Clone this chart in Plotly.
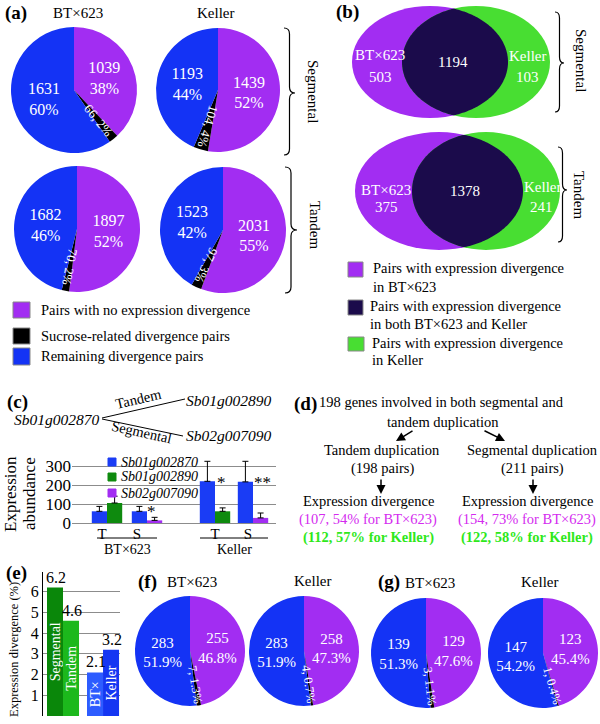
import math
import plotly.graph_objects as go

W, H = 600, 724
FONT = "'Liberation Serif', 'Times New Roman', Times, 'DejaVu Serif', serif"

PURPLE = "#A22DF2"
BLUE = "#1433F5"
BLACK = "#000000"
NAVY = "#1B0B4B"
VGREEN = "#48DE32"
MAGENTA = "#D42BEF"
TGREEN = "#2EE81A"

# ---------------- data ----------------
# (a) pies: order BT Segmental, Keller Segmental, BT Tandem, Keller Tandem
a_no_div = [1039, 1439, 1897, 2031]
a_no_div_pct = ["38%", "52%", "52%", "55%"]
a_sucrose = [66, 104, 70, 97]
a_sucrose_pct = ["2%", "4%", "2%", "3%"]
a_remain = [1631, 1193, 1682, 1523]
a_remain_pct = ["60%", "44%", "46%", "42%"]

# (b) Venn: Segmental, Tandem
b_bt_only = [503, 375]
b_both = [1194, 1378]
b_keller_only = [103, 241]

# (c) expression abundance
c_genes = ["Sb01g002870", "Sb01g002890", "Sb02g007090"]
c_groups = ["BT×623", "Keller"]
c_ticks = ["T", "S", "T", "S"]
c_blue = [62, 62, 221, 218]
c_blue_err = [26, 26, 106, 109]
c_green = [106, 62]          # T pairs (BT×623, Keller)
c_green_err = [36, 18]
c_purple = [14, 27]          # S pairs (BT×623, Keller)
c_purple_err = [16, 26]

# (d) flow text
d_tandem_pairs = 198
d_segmental_pairs = 211

# (e) expression divergence (%)
e_labels = ["Segmental", "Tandem", "BT×", "Keller"]
e_values = [6.2, 4.6, 2.1, 3.2]

# (f) pies BT×623, Keller
f_no_div = [255, 258]
f_no_div_pct = ["46.8%", "47.3%"]
f_sucrose = [7, 4]
f_sucrose_pct = ["1.3%", "0.7%"]
f_remain = [283, 283]
f_remain_pct = ["51.9%", "51.9%"]

# (g) pies BT×623, Keller
g_no_div = [129, 123]
g_no_div_pct = ["47.6%", "45.4%"]
g_sucrose = [3, 1]
g_sucrose_pct = ["1.1%", "0.4%"]
g_remain = [139, 147]
g_remain_pct = ["51.3%", "54.2%"]

# ---------------- helpers ----------------
fig = go.Figure()
ann = []
shapes = []


def PX(x):
    return x / W


def PY(y):
    return 1 - y / H


def text(t, x, y, size=14, color="black", angle=0, xanchor="center", yanchor="middle"):
    ann.append(dict(text=t, x=PX(x), y=PY(y), xref="paper", yref="paper", showarrow=False,
                    font=dict(family=FONT, size=size, color=color), textangle=angle,
                    xanchor=xanchor, yanchor=yanchor))


def rect(x0, y0, x1, y1, color, line="#888888"):
    shapes.append(dict(type="rect", xref="paper", yref="paper", x0=PX(x0), x1=PX(x1),
                       y0=PY(y1), y1=PY(y0), fillcolor=color, line=dict(color=line, width=1)))


def line(x0, y0, x1, y1, width=1.2, color="black"):
    shapes.append(dict(type="line", xref="paper", yref="paper", x0=PX(x0), y0=PY(y0),
                       x1=PX(x1), y1=PY(y1), line=dict(color=color, width=width)))


def brace(x, ytop, ymid, ybot, w):
    h = w / 2
    pts = (f"M{PX(x)},{PY(ytop)} Q{PX(x + h)},{PY(ytop)} {PX(x + h)},{PY(ytop + 6)} "
           f"L{PX(x + h)},{PY(ymid - 6)} Q{PX(x + h)},{PY(ymid)} {PX(x + w)},{PY(ymid)} "
           f"Q{PX(x + h)},{PY(ymid)} {PX(x + h)},{PY(ymid + 6)} "
           f"L{PX(x + h)},{PY(ybot - 6)} Q{PX(x + h)},{PY(ybot)} {PX(x)},{PY(ybot)}")
    shapes.append(dict(type="path", xref="paper", yref="paper", path=pts,
                       line=dict(color="black", width=1.2)))


def pie(no_div, no_pct, suc, suc_pct, rem, rem_pct, cx, cy, r, size=15, ssize=13):
    vals = [no_div, suc, rem]
    fig.add_trace(go.Pie(
        values=vals,
        text=[f"{no_div}<br>{no_pct}", "", f"{rem}<br>{rem_pct}"],
        textinfo="text", textposition=["inside", "none", "inside"],
        insidetextorientation="horizontal", sort=False, direction="clockwise", rotation=0,
        marker=dict(colors=[PURPLE, BLACK, BLUE], line=dict(width=0)),
        textfont=dict(family=FONT, size=size, color="white"),
        domain=dict(x=[PX(cx - r), PX(cx + r)], y=[PY(cy + r), PY(cy - r)]),
        showlegend=False, hoverinfo="skip"))
    tot = sum(vals)
    th = 360 * (no_div + suc / 2) / tot
    rad = math.radians(th)
    px = cx + 0.62 * r * math.sin(rad)
    py = cy - 0.62 * r * math.cos(rad)
    text(f"{suc}, {suc_pct}", px, py, size=ssize, color="white", angle=th - 90)


# ---------------- panel (a) ----------------
text("<b>(a)</b>", 16, 13, size=19)
text("BT×623", 78, 13, size=15)
text("Keller", 215, 13, size=15)
a_pos = [(74, 90, 63), (218, 90, 62), (77, 229, 63), (223, 230, 63)]
for i, (cx, cy, r) in enumerate(a_pos):
    pie(a_no_div[i], a_no_div_pct[i], a_sucrose[i], a_sucrose_pct[i],
        a_remain[i], a_remain_pct[i], cx, cy, r, size=16, ssize=13)
brace(284, 28, 93, 155, 11)
brace(285, 167, 230, 293, 12)
text("Segmental", 313, 92, size=15, angle=90)
text("Tandem", 315, 225, size=15, angle=90)
rect(13, 302, 30, 318, PURPLE)
rect(13, 328, 30, 344, BLACK)
rect(13, 348, 30, 365, BLUE)
text("Pairs with no expression divergence", 39, 310, size=14.5, xanchor="left")
text("Sucrose-related divergence pairs", 39, 336, size=14.5, xanchor="left")
text("Remaining divergence pairs", 39, 356, size=14.5, xanchor="left")

# ---------------- panel (b) ----------------
text("<b>(b)</b>", 347, 12, size=19)


def ellipse_pts(cx, cy, rx, ry, t0, t1, n=160):
    return [(cx + rx * math.cos(t0 + (t1 - t0) * i / n), cy + ry * math.sin(t0 + (t1 - t0) * i / n))
            for i in range(n + 1)]


def inside(p, e):
    cx, cy, rx, ry = e
    return ((p[0] - cx) / rx) ** 2 + ((p[1] - cy) / ry) ** 2 <= 1.0001


def venn(e1, e2):
    for (cx, cy, rx, ry), col in ((e1, PURPLE), (e2, VGREEN)):
        shapes.append(dict(type="circle", xref="paper", yref="paper",
                           x0=PX(cx - rx), x1=PX(cx + rx), y0=PY(cy + ry), y1=PY(cy - ry),
                           fillcolor=col, line=dict(width=0)))
    a = [p for p in ellipse_pts(*e1, -math.pi / 2, math.pi / 2) if inside(p, e2)]
    b = [p for p in ellipse_pts(*e2, math.pi / 2, 3 * math.pi / 2) if inside(p, e1)]
    pts = a + b
    path = "M" + " L".join(f"{PX(x)},{PY(y)}" for x, y in pts) + " Z"
    shapes.append(dict(type="path", xref="paper", yref="paper", path=path,
                       fillcolor=NAVY, line=dict(width=0)))


venn((430, 62, 78, 56), (476, 62, 74, 56))
text("BT×623", 380, 55, size=15, color="white")
text(str(b_bt_only[0]), 380, 77, size=15, color="white")
text(str(b_both[0]), 453, 62, size=15, color="white")
text("Keller", 527, 56, size=15, color="white")
text(str(b_keller_only[0]), 527, 77, size=15, color="white")

venn((439, 191, 84, 59), (486, 191, 74, 59))
text("BT×623", 386, 190, size=15, color="white")
text(str(b_bt_only[1]), 386, 207, size=15, color="white")
text(str(b_both[1]), 465, 191, size=15, color="white")
text("Keller", 542, 187, size=15, color="white")
text(str(b_keller_only[1]), 541, 207, size=15, color="white")

brace(555, 12, 63, 112, 9)
brace(558, 147, 190, 242, 9)
text("Segmental", 581, 60, size=15, angle=90)
text("Tandem", 579, 195, size=15, angle=90)

rect(348, 262, 363, 277, PURPLE)
rect(348, 300, 363, 315, NAVY)
rect(348, 337, 364, 351, VGREEN)
text("Pairs with expression divergence", 371, 268, size=14.5, xanchor="left")
text("in BT×623", 371, 287, size=14.5, xanchor="left")
text("Pairs with expression divergence", 368, 306, size=14.5, xanchor="left")
text("in both BT×623 and Keller", 368, 324, size=14.5, xanchor="left")
text("Pairs with expression divergence", 370, 343, size=14.5, xanchor="left")
text("in Keller", 370, 360, size=14.5, xanchor="left")

# ---------------- panel (c) ----------------
text("<b>(c)</b>", 17, 402, size=19)
text(f"<i>{c_genes[0]}</i>", 57, 419, size=15.5)
text(f"<i>{c_genes[1]}</i>", 229, 400, size=15.5)
text(f"<i>{c_genes[2]}</i>", 229, 435, size=15.5)
line(102, 418, 185, 399, width=1)
line(102, 419, 183, 436, width=1)
text("Tandem", 138, 399, size=14.5, angle=-13)
text("Segmental", 141, 432, size=14.5, angle=12.5)

c_x = [0, 1, 2.7, 3.65]
BW = 0.38
C_BLUE, C_GREEN = "#1A3CF5", "#0E8A0E"
fig.add_trace(go.Bar(x=c_x, y=c_blue, width=BW, offset=-BW, marker=dict(color=C_BLUE, line=dict(width=0)),
                     error_y=dict(type="data", array=c_blue_err, arrayminus=[0] * 4, symmetric=False,
                                  color="black", thickness=1, width=3),
                     xaxis="x", yaxis="y", showlegend=False, hoverinfo="skip"))
fig.add_trace(go.Bar(x=[c_x[0], c_x[2]], y=c_green, width=BW, offset=0,
                     marker=dict(color=C_GREEN, line=dict(width=0)),
                     error_y=dict(type="data", array=c_green_err, arrayminus=[0, 0], symmetric=False,
                                  color="black", thickness=1, width=3),
                     xaxis="x", yaxis="y", showlegend=False, hoverinfo="skip"))
fig.add_trace(go.Bar(x=[c_x[1], c_x[3]], y=c_purple, width=BW, offset=0,
                     marker=dict(color=PURPLE, line=dict(width=0)),
                     error_y=dict(type="data", array=c_purple_err, arrayminus=[0, 0], symmetric=False,
                                  color="black", thickness=1, width=3),
                     xaxis="x", yaxis="y", showlegend=False, hoverinfo="skip"))
# significance marks
ann.append(dict(text="*", x=c_x[1] + 0.1, y=c_purple[0] + c_purple_err[0], xref="x", yref="y",
                showarrow=False, font=dict(family=FONT, size=17), yanchor="bottom", yshift=-6))
ann.append(dict(text="*", x=c_x[2], y=c_blue[2], xref="x", yref="y", xanchor="left",
                showarrow=False, font=dict(family=FONT, size=17), yanchor="middle", yshift=-1))
ann.append(dict(text="**", x=c_x[3] - 0.02, y=c_blue[3], xref="x", yref="y", xanchor="left",
                showarrow=False, font=dict(family=FONT, size=17), yanchor="middle", yshift=-1))
# legend
for i, col in enumerate([C_BLUE, C_GREEN, PURPLE]):
    yy = [462, 477, 493][i]
    rect(108, yy - 4, 116, yy + 4, col, line=col)
    text(f"<i>{c_genes[i]}</i>", 119, yy, size=14, xanchor="left")
# axis titles
text("Expression", 10, 494, size=17, angle=-90)
text("abundance", 29, 494, size=17, angle=-90)
# group labels
line(97, 538, 157, 538, width=1)
line(200, 538, 268, 538, width=1)
text(c_groups[0], 127, 549, size=14)
text(c_groups[1], 234, 549, size=14)

# ---------------- panel (d) ----------------
text("<b>(d)</b>", 305, 404, size=19)
text("198 genes involved in both segmental and", 317, 402, size=14.5, xanchor="left")
text("tandem duplication", 443, 422, size=14.5)
text("Tandem duplication", 382, 450, size=14.5)
text(f"({d_tandem_pairs} pairs)", 382, 468, size=14.5)
text("Segmental duplication", 532, 450, size=14.5)
text(f"({d_segmental_pairs} pairs)", 532, 468, size=14.5)
for (hx, hy, ax, ay) in [(396, 441, 18, -11), (505, 441, -22, -11), (381, 494, 0, -16), (533, 494, 0, -16)]:
    ann.append(dict(text="", x=PX(hx), y=PY(hy), xref="paper", yref="paper", showarrow=True,
                    ax=ax, ay=ay, arrowhead=2, arrowsize=1.2, arrowwidth=1.5, arrowcolor="black"))
text("Expression divergence", 368, 501, size=14.5)
text("Expression divergence", 527, 501, size=14.5)
text("(107, 54% for BT×623)", 368, 519, size=14.5, color=MAGENTA)
text("(154, 73% for BT×623)", 527, 519, size=14.5, color=MAGENTA)
text("<b>(112, 57% for Keller)</b>", 368, 537, size=14.5, color=TGREEN)
text("<b>(122, 58% for Keller)</b>", 527, 537, size=14.5, color=TGREEN)

# ---------------- panel (e) ----------------
text("<b>(e)</b>", 16, 573, size=19)
e_x = [0, 1, 2.5, 3.5]
fig.add_trace(go.Bar(x=e_x, y=e_values, width=1,
                     marker=dict(color=["#0A870A", "#1CB81C", "#2D5CFF", "#1536F2"], line=dict(width=0)),
                     text=e_labels, textposition="inside", insidetextanchor="middle", textangle=-90,
                     constraintext="none",
                     textfont=dict(family=FONT, size=14, color="white"),
                     xaxis="x2", yaxis="y2", showlegend=False, hoverinfo="skip"))
for xv, yv in zip(e_x, e_values):
    ann.append(dict(text=f"{yv}", x=xv, y=yv, xref="x2", yref="y2", showarrow=False,
                    font=dict(family=FONT, size=16), yanchor="bottom", xshift=1))
text("Expression divergence (%)", 14, 650, size=12.5, angle=-90)

# ---------------- panel (f) ----------------
text("<b>(f)</b>", 147, 582, size=19)
text("BT×623", 192, 582, size=15)
text("Keller", 313, 581, size=15)
for i, (cx, cy, r) in enumerate([(190, 651, 55), (304, 651, 55)]):
    pie(f_no_div[i], f_no_div_pct[i], f_sucrose[i], f_sucrose_pct[i],
        f_remain[i], f_remain_pct[i], cx, cy, r, size=15, ssize=12.5)

# ---------------- panel (g) ----------------
text("<b>(g)</b>", 389, 582, size=19)
text("BT×623", 430, 583, size=15)
text("Keller", 539, 582, size=15)
for i, (cx, cy, r) in enumerate([(426, 653, 55), (543, 653, 55)]):
    pie(g_no_div[i], g_no_div_pct[i], g_sucrose[i], g_sucrose_pct[i],
        g_remain[i], g_remain_pct[i], cx, cy, r, size=15, ssize=12.5)

# ---------------- layout ----------------
fig.update_layout(
    width=W, height=H, margin=dict(l=0, r=0, t=0, b=0, autoexpand=False),
    paper_bgcolor="white", plot_bgcolor="rgba(0,0,0,0)",
    barmode="overlay", showlegend=False,
    font=dict(family=FONT, color="black"),
    xaxis=dict(domain=[PX(72), PX(276)], range=[-0.875, 4.225], tickmode="array",
               tickvals=[-0.12, 0.75, 2.7, 3.52], ticktext=c_ticks, showgrid=False, zeroline=False,
               showline=False, ticks="", tickfont=dict(family=FONT, size=15), fixedrange=True,
               automargin=False),
    yaxis=dict(domain=[PY(523), PY(523 - 340 * 56.6 / 300)], range=[0, 340], tickmode="array",
               tickvals=[0, 100, 200, 300], showgrid=True, gridcolor="#8c8c8c", gridwidth=1,
               zeroline=True, zerolinecolor="#8c8c8c", zerolinewidth=1, ticks="",
               tickfont=dict(family=FONT, size=17), fixedrange=True, automargin=False),
    xaxis2=dict(domain=[PX(43), PX(120)], range=[-0.75, 4.06], showticklabels=False, showgrid=False,
                zeroline=False, showline=False, ticks="", anchor="y2", fixedrange=True, automargin=False),
    yaxis2=dict(domain=[PY(716), PY(572)], range=[0, 6.95], dtick=1, showgrid=True, gridcolor="#8c8c8c",
                zeroline=False, showline=True, linecolor="black", linewidth=1, ticks="",
                tickfont=dict(family=FONT, size=16), anchor="x2", fixedrange=True, automargin=False),
    annotations=ann, shapes=shapes,
)
fig.write_html("out.html", config={"displayModeBar": False},
               post_script="document.body.style.margin='0';document.body.style.overflow='hidden';")
